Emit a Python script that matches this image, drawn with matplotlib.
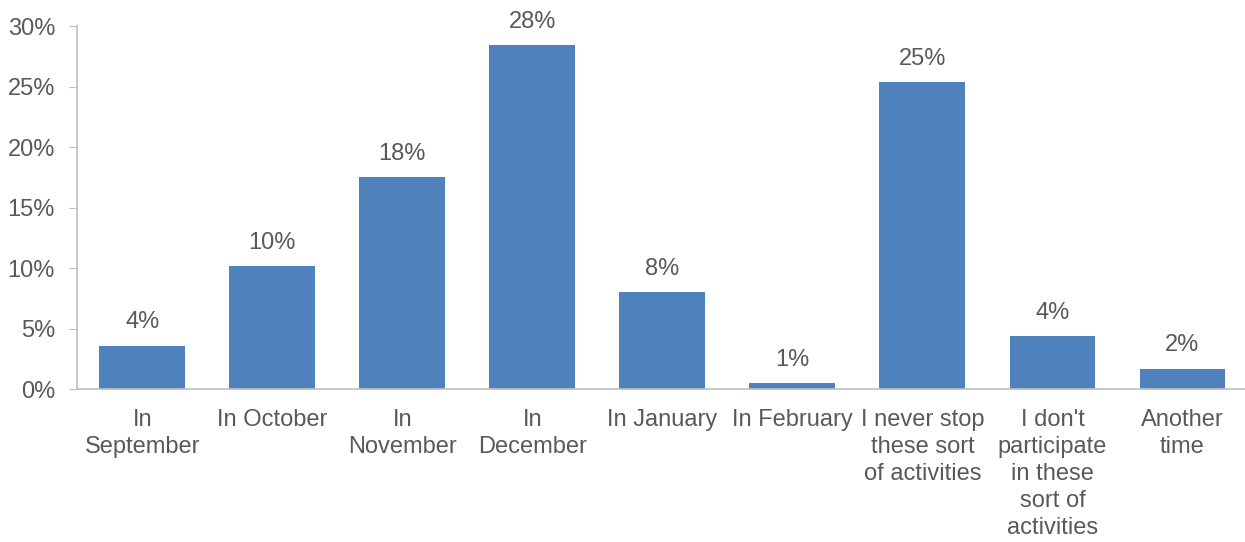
import matplotlib
matplotlib.use("Agg")
import matplotlib.pyplot as plt
from matplotlib.ticker import FuncFormatter

plt.rcParams['font.family'] = ['Liberation Sans', 'DejaVu Sans']

categories = [
    "In\nSeptember", "In October", "In\nNovember", "In\nDecember", "In January",
    "In February", "I never stop\nthese sort\nof activities",
    "I don't\nparticipate\nin these\nsort of\nactivities", "Another\ntime",
]
values = [3.6, 10.2, 17.5, 28.4, 8.0, 0.5, 25.4, 4.4, 1.7]
labels = ["4%", "10%", "18%", "28%", "8%", "1%", "25%", "4%", "2%"]

bar_color = "#4F81BD"
text_color = "#595959"
axis_color = "#BFBFBF"
fs = 17

fig = plt.figure(figsize=(12.45, 5.42), dpi=100)
ax = fig.add_axes([0.062, 0.282, 0.94, 0.67])

x = range(len(categories))
bars = ax.bar(x, values, width=0.66, color=bar_color)
for b, lab in zip(bars, labels):
    ax.text(b.get_x() + b.get_width() / 2, b.get_height() + 1.0, lab,
            ha="center", va="bottom", fontsize=fs, color=text_color)

ax.set_xlim(-0.5, len(categories) - 0.5)
ax.set_ylim(0, 30)
ax.set_yticks(range(0, 31, 5))
ax.yaxis.set_major_formatter(FuncFormatter(lambda v, _: f"{v:.0f}%"))
ax.set_xticks(list(x))
ax.set_xticklabels(categories, fontsize=fs, color=text_color, linespacing=1.3)
ax.tick_params(axis="x", length=0, pad=14)
ax.tick_params(axis="y", labelsize=fs, labelcolor=text_color, length=6,
               color=axis_color, pad=10)

for s in ["top", "right"]:
    ax.spines[s].set_visible(False)
ax.spines["left"].set_color(axis_color)
ax.spines["bottom"].set_color(axis_color)
ax.spines["left"].set_linewidth(1.2)
ax.spines["bottom"].set_linewidth(1.2)

fig.savefig("out.png", dpi=100)
